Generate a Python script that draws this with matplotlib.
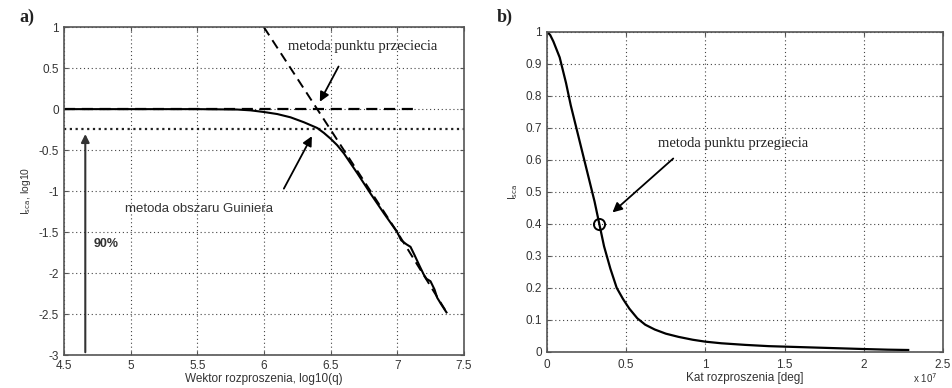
import matplotlib
matplotlib.use("Agg")
import matplotlib.pyplot as plt
from matplotlib.ticker import FuncFormatter

plt.rcParams['axes.unicode_minus'] = False
plt.rcParams['font.family'] = ['Liberation Sans', 'DejaVu Sans']

# ---- panel a) data ----
a_x = [4.5, 5.0, 5.5, 5.8, 5.9, 6.0, 6.1, 6.2, 6.3, 6.4, 6.45, 6.5, 6.55, 6.6, 6.7,
       6.8, 6.9, 7.0, 7.03, 7.07, 7.1, 7.13, 7.17, 7.2, 7.22, 7.25, 7.28, 7.3,
       7.33, 7.37]
a_y = [0.0, 0.0, 0.0, -0.005, -0.015, -0.035, -0.06, -0.10, -0.16, -0.23, -0.29,
       -0.36, -0.44, -0.54, -0.78, -1.03, -1.27, -1.5, -1.6, -1.65, -1.68, -1.78,
       -1.92, -2.02, -2.07, -2.1, -2.2, -2.3, -2.38, -2.48]
tangent_x = [6.0, 7.0, 7.36]
tangent_y = [1.0, -1.5, -2.45]
plateau_x = [4.5, 7.15]
plateau_y = [0.0, 0.0]
threshold_y = -0.24
a_xticks = [4.5, 5, 5.5, 6, 6.5, 7, 7.5]
a_yticks = [1, 0.5, 0, -0.5, -1, -1.5, -2, -2.5, -3]

# ---- panel b) data (x in units of 1e7 deg) ----
b_x = [0, 0.02, 0.04, 0.06, 0.08, 0.1, 0.12, 0.15, 0.18, 0.21, 0.24, 0.27, 0.3,
       0.33, 0.36, 0.4, 0.44, 0.48, 0.52, 0.57, 0.62, 0.68, 0.75, 0.83, 0.92,
       1.0, 1.1, 1.25, 1.4, 1.6, 1.8, 2.0, 2.15, 2.28]
b_y = [1.0, 0.99, 0.97, 0.945, 0.92, 0.88, 0.84, 0.77, 0.71, 0.65, 0.59, 0.53,
       0.47, 0.40, 0.33, 0.26, 0.20, 0.165, 0.135, 0.105, 0.085, 0.07, 0.057,
       0.047, 0.038, 0.032, 0.027, 0.022, 0.018, 0.015, 0.012, 0.009, 0.007, 0.006]
b_x = [v * 1e7 for v in b_x]
b_point = (0.33e7, 0.4)
b_xticks = [0, 0.5e7, 1e7, 1.5e7, 2e7, 2.5e7]
b_yticks = [0, 0.1, 0.2, 0.3, 0.4, 0.5, 0.6, 0.7, 0.8, 0.9, 1.0]

fig = plt.figure(figsize=(9.52, 3.88), dpi=100)
ax1 = fig.add_axes([0.0672, 0.085, 0.42, 0.845])
ax2 = fig.add_axes([0.5746, 0.093, 0.416, 0.825])

frame_c = '#555555'
tick_c = '#333333'
for ax in (ax1, ax2):
    for s in ax.spines.values():
        s.set_color(frame_c)
        s.set_linewidth(1.2)
    ax.tick_params(direction='in', colors=frame_c, labelcolor=tick_c,
                   labelsize=8.5, length=3, top=True, right=True)
    ax.grid(True, linestyle=(0, (1, 2.5)), color='#444444', linewidth=0.8)

# panel a
ax1.axhline(threshold_y, color='#222222', linestyle=(0, (1, 1.6)), linewidth=1.6)
ax1.plot(plateau_x, plateau_y, color='black', linestyle=(0, (5, 3)), linewidth=1.6)
ax1.plot(tangent_x, tangent_y, color='black', linestyle=(0, (5, 3)), linewidth=1.4)
ax1.plot(a_x, a_y, color='black', linewidth=1.5)
ax1.set_xlim(4.5, 7.5)
ax1.set_ylim(-3, 1)
ax1.set_xticks(a_xticks)
ax1.set_xticklabels([f'{t:g}' for t in a_xticks])
ax1.set_yticks(a_yticks)
ax1.set_yticklabels([f'{t:g}' for t in a_yticks])
ax1.set_xlabel('Wektor rozproszenia, log10(q)', fontsize=8.5, color=tick_c, labelpad=1)
ax1.set_ylabel(r'I$_{\rm sca}$, log10', fontsize=7.5, color=tick_c, labelpad=4)

ax1.annotate('', xy=(4.66, -0.27), xytext=(4.66, -3.0),
             arrowprops=dict(arrowstyle='-|>', color='#333333', lw=1.5, mutation_scale=12))
ax1.text(4.72, -1.65, '90%', fontsize=9, fontweight='bold', color='#333333', va='center')
ax1.text(4.96, -1.22, 'metoda obszaru Guiniera', fontsize=9.5, color='#333333', va='center')
ax1.annotate('', xy=(6.37, -0.3), xytext=(6.14, -1.0),
             arrowprops=dict(arrowstyle='-|>', color='black', lw=1.3, mutation_scale=14))
ax1.text(6.18, 0.76, 'metoda punktu przeciecia', fontsize=10.5, family='Liberation Serif',
         color='#222222', va='center')
ax1.annotate('', xy=(6.41, 0.06), xytext=(6.57, 0.55),
             arrowprops=dict(arrowstyle='-|>', color='black', lw=1.3, mutation_scale=14))

# panel b
ax2.plot(b_x, b_y, color='black', linewidth=1.6)
ax2.plot([b_point[0]], [b_point[1]], marker='o', markersize=8, markerfacecolor='none',
         markeredgecolor='black', markeredgewidth=1.4)
ax2.set_xlim(0, 2.5e7)
ax2.set_ylim(0, 1)
ax2.set_xticks(b_xticks)
ax2.xaxis.set_major_formatter(FuncFormatter(lambda v, p: f'{v / 1e7:g}'))
ax2.tick_params(axis='x', pad=5)
ax2.set_yticks(b_yticks)
ax2.set_yticklabels([f'{t:g}' for t in b_yticks])
ax2.text(0.955, -0.083, r'x 10$^7$', transform=ax2.transAxes, fontsize=7,
         color=tick_c, ha='center', va='center')
ax2.set_xlabel('Kat rozproszenia [deg]', fontsize=8.5, color=tick_c, labelpad=1)
ax2.set_ylabel(r'I$_{\rm sca}$', fontsize=7.5, color=tick_c, labelpad=4)
ax2.text(0.70e7, 0.65, 'metoda punktu przegiecia', fontsize=10.5, family='Liberation Serif',
         color='#222222', va='center')
ax2.annotate('', xy=(0.40e7, 0.43), xytext=(0.81e7, 0.61),
             arrowprops=dict(arrowstyle='-|>', color='black', lw=1.3, mutation_scale=14))

fig.text(0.02, 0.955, 'a)', fontsize=13, family='Liberation Serif', fontweight='bold',
         va='center', color='#222222')
fig.text(0.522, 0.955, 'b)', fontsize=13, family='Liberation Serif', fontweight='bold',
         va='center', color='#222222')

fig.savefig('out.png', dpi=100)
